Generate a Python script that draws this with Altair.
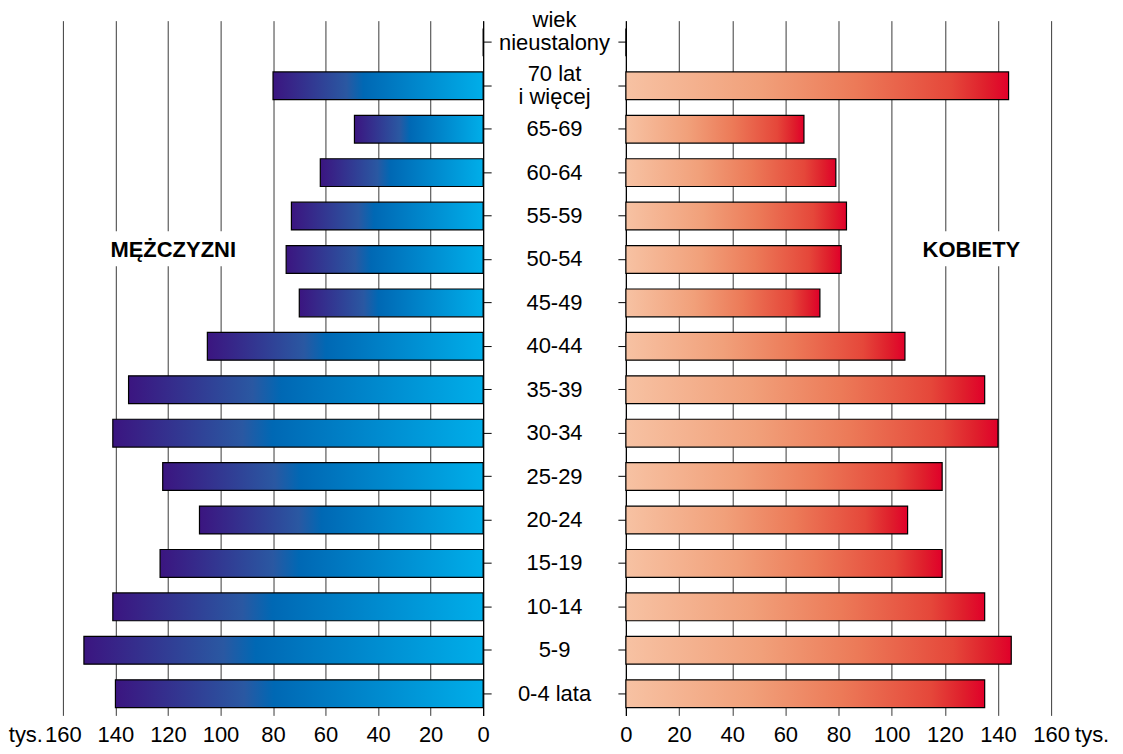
import altair as alt
import pandas as pd

categories = ["wiek nieustalony", "70 lat i więcej", "65-69", "60-64", "55-59", "50-54",
              "45-49", "40-44", "35-39", "30-34", "25-29", "20-24", "15-19", "10-14",
              "5-9", "0-4 lata"]
label_text = ["wiek\nnieustalony", "70 lat\ni więcej", "65-69", "60-64", "55-59", "50-54",
              "45-49", "40-44", "35-39", "30-34", "25-29", "20-24", "15-19", "10-14",
              "5-9", "0-4 lata"]
men = [0, 80, 49, 62, 73, 75, 70, 105, 135, 141, 122, 108, 123, 141, 152, 140]
women = [0, 144, 67, 79, 83, 81, 73, 105, 135, 140, 119, 106, 119, 135, 145, 135]
tick_values = [0, 20, 40, 60, 80, 100, 120, 140, 160]

FONT = "Liberation Sans"
H = 696
WL, WC, WR = 421, 125, 426

df = pd.DataFrame({"cat": categories, "label": label_text, "men": men, "women": women})

yscale = alt.Scale(domain=categories, paddingInner=0.36, paddingOuter=0.18)

grad_l = alt.LinearGradient(
    gradient="linear", x1=0, x2=1, y1=0, y2=0,
    stops=[alt.GradientStop(color="#3b1580", offset=0),
           alt.GradientStop(color="#2a58a2", offset=0.35),
           alt.GradientStop(color="#0068b4", offset=0.43),
           alt.GradientStop(color="#008fd2", offset=0.75),
           alt.GradientStop(color="#00aee9", offset=1)])
grad_r = alt.LinearGradient(
    gradient="linear", x1=0, x2=1, y1=0, y2=0,
    stops=[alt.GradientStop(color="#f7c2a3", offset=0),
           alt.GradientStop(color="#f1a07a", offset=0.35),
           alt.GradientStop(color="#ec7a58", offset=0.6),
           alt.GradientStop(color="#e5473a", offset=0.85),
           alt.GradientStop(color="#df1f2c", offset=0.94),
           alt.GradientStop(color="#e0002a", offset=1)])

NOVIEW = alt.ViewBackground(stroke=None, strokeWidth=0)


def xaxis():
    return alt.Axis(values=tick_values, title=None, grid=True, gridColor="#3a3a3a",
                    gridWidth=1, ticks=False, domain=False, labelFontSize=22,
                    labelFont=FONT, labelColor="black", labelPadding=9,
                    labelFlush=False, labelOverlap=False)


def yaxis(orient):
    return alt.Axis(orient=orient, labels=False, title=None, tickSize=8, tickColor="black",
                    tickWidth=1, domainColor="black", domainWidth=1.2, grid=False)


# ---------- left (men) ----------
bars_l = alt.Chart(df).mark_bar(color=grad_l, stroke="black", strokeWidth=1.2).encode(
    x=alt.X("men:Q", scale=alt.Scale(domain=[0, 160], reverse=True, nice=False), axis=xaxis()),
    y=alt.Y("cat:N", sort=categories, scale=yscale, axis=yaxis("right")),
)
men_bg = alt.Chart(pd.DataFrame({"a": [1]})).mark_rect(color="white").encode(
    x=alt.datum(91), x2=alt.datum(145), y=alt.value(211), y2=alt.value(246))
men_text = alt.Chart(pd.DataFrame({"t": ["MĘŻCZYZNI"]})).mark_text(
    font=FONT, fontSize=22, fontWeight="bold", color="black", baseline="middle"
).encode(x=alt.datum(118), y=alt.value(230), text="t:N")
tys_l = alt.Chart(pd.DataFrame({"t": ["tys."]})).mark_text(
    font=FONT, fontSize=22, color="black", align="right", baseline="middle", dx=-20
).encode(x=alt.datum(160), y=alt.value(H + 20), text="t:N")
left = alt.layer(bars_l, men_bg, men_text, tys_l).properties(width=WL, height=H, view=NOVIEW)

# ---------- center labels ----------
def center_layer(test, dy, lh):
    return alt.Chart(df).transform_filter(test).mark_text(
        font=FONT, fontSize=22, color="black", lineBreak="\n", lineHeight=lh,
        baseline="middle", dy=dy
    ).encode(
        y=alt.Y("cat:N", sort=categories, scale=yscale, axis=None),
        x=alt.value(WC / 2),
        text="label:N",
    )


center = alt.layer(
    center_layer("datum.cat != 'wiek nieustalony' && datum.cat != '70 lat i więcej'", 0, 23),
    center_layer("datum.cat == '70 lat i więcej'", -12, 23),
    center_layer("datum.cat == 'wiek nieustalony'", -22, 23),
).properties(width=WC, height=H, view=NOVIEW)

# ---------- right (women) ----------
bars_r = alt.Chart(df).mark_bar(color=grad_r, stroke="black", strokeWidth=1.2).encode(
    x=alt.X("women:Q", scale=alt.Scale(domain=[0, 160], nice=False), axis=xaxis()),
    y=alt.Y("cat:N", sort=categories, scale=yscale, axis=yaxis("left")),
)
wom_bg = alt.Chart(pd.DataFrame({"a": [1]})).mark_rect(color="white").encode(
    x=alt.datum(110), x2=alt.datum(150), y=alt.value(211), y2=alt.value(246))
wom_text = alt.Chart(pd.DataFrame({"t": ["KOBIETY"]})).mark_text(
    font=FONT, fontSize=22, fontWeight="bold", color="black", baseline="middle"
).encode(x=alt.datum(130), y=alt.value(230), text="t:N")
tys_r = alt.Chart(pd.DataFrame({"t": ["tys."]})).mark_text(
    font=FONT, fontSize=22, color="black", align="left", baseline="middle", dx=24
).encode(x=alt.datum(160), y=alt.value(H + 20), text="t:N")
right = alt.layer(bars_r, wom_bg, wom_text, tys_r).properties(width=WR, height=H, view=NOVIEW)

chart = alt.hconcat(left, center, right, spacing=0).resolve_scale(
    x="independent", y="independent"
).properties(
    padding={"left": 0, "top": 0, "right": 5, "bottom": 0}
).configure(font=FONT).configure_view(stroke=None, strokeWidth=0)

chart.save("out.html", embed_options={"renderer": "svg", "actions": False})
